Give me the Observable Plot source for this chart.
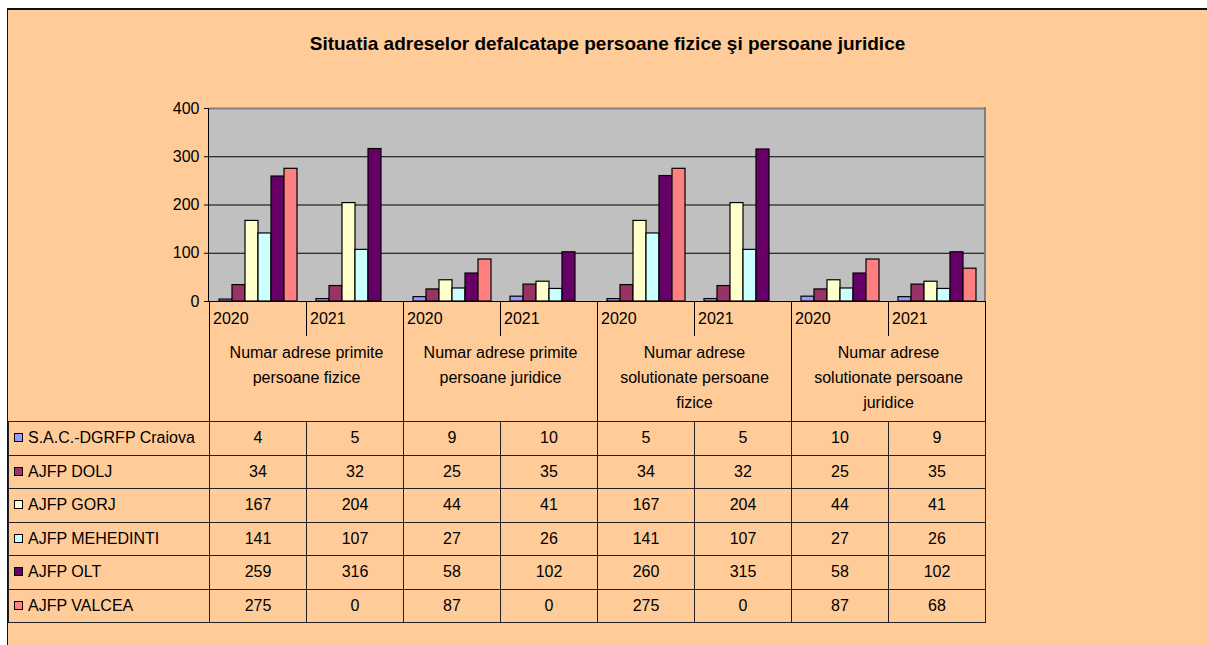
<!DOCTYPE html>
<html><head><meta charset="utf-8">
<script src="https://cdn.jsdelivr.net/npm/d3@7"></script>
<script src="https://cdn.jsdelivr.net/npm/@observablehq/plot@0.6"></script>
<style>
body{margin:0;width:1207px;height:645px;position:relative;overflow:hidden;background:#fff;font-family:"Liberation Sans",Arial,sans-serif;color:#000;}
#frame{position:absolute;left:7px;top:8px;right:0;bottom:0;background:#FFCC99;border-top:2px solid #111;border-left:1px solid #111;}
#title{position:absolute;left:8px;right:0;top:33px;text-align:center;font-weight:bold;font-size:19px;}
#plotbg{position:absolute;left:209px;top:108px;width:776px;height:193px;background:#C0C0C0;}
#chart{position:absolute;left:0;top:0;}
#axisline{position:absolute;left:208px;top:108px;width:1px;height:194px;background:#000;}
#rightline{position:absolute;left:984px;top:107px;width:2px;height:194px;background:#808080;}
#tbl{position:absolute;left:8px;top:301px;border-collapse:collapse;table-layout:fixed;font-size:16px;width:977px;}
#tbl td{padding:0;border:0;}
#tbl td.yr{border-left:1px solid #000;padding-left:3px;vertical-align:top;padding-top:9px;height:26px;}
#tbl td.cat{height:81px;border-left:1px solid #000;border-right:1px solid #000;text-align:center;vertical-align:top;line-height:25px;padding-top:4px;white-space:pre-line;}
#tbl tr.data td{border:1px solid #222;height:32.5px;text-align:center;vertical-align:middle;}
#tbl tr.data td.lab{text-align:left;padding-left:5px;white-space:nowrap;}
.sw{display:inline-block;width:7px;height:7px;border:1px solid #000;margin-right:5px;vertical-align:1px;}
</style></head>
<body>
<div id="frame"></div>
<div id="title"></div>
<div id="plotbg"></div>
<div id="chart"></div>
<div id="axisline"></div>
<div id="rightline"></div>
<table id="tbl"></table>
<script>
const title = "Situatia adreselor defalcatape persoane fizice şi persoane juridice";
const categories = [
  "Numar adrese primite\npersoane fizice",
  "Numar adrese primite\npersoane juridice",
  "Numar adrese\nsolutionate persoane\nfizice",
  "Numar adrese\nsolutionate persoane\njuridice"
];
const years = ["2020", "2021"];
const seriesNames = ["S.A.C.-DGRFP Craiova", "AJFP DOLJ", "AJFP GORJ", "AJFP MEHEDINTI", "AJFP OLT", "AJFP VALCEA"];
const seriesColors = ["#9999FF", "#993366", "#FFFFCC", "#CCFFFF", "#660066", "#FF8080"];
const sacValues = [4, 5, 9, 10, 5, 5, 10, 9];
const doljValues = [34, 32, 25, 35, 34, 32, 25, 35];
const gorjValues = [167, 204, 44, 41, 167, 204, 44, 41];
const mehedintiValues = [141, 107, 27, 26, 141, 107, 27, 26];
const oltValues = [259, 316, 58, 102, 260, 315, 58, 102];
const valceaValues = [275, 0, 87, 0, 275, 0, 87, 68];
const yTicks = [0, 100, 200, 300, 400];

const seriesValues = [sacValues, doljValues, gorjValues, mehedintiValues, oltValues, valceaValues];
const groupKeys = [];
categories.forEach((c, ci) => years.forEach(y => groupKeys.push(ci + "-" + y)));
const rows = [];
seriesNames.forEach((s, si) => seriesValues[si].forEach((v, gi) => rows.push({group: groupKeys[gi], series: s, value: v})));

document.getElementById("title").textContent = title;

const plot = Plot.plot({
  width: 1207,
  height: 311,
  marginLeft: 209,
  marginRight: 222,
  marginTop: 108,
  marginBottom: 10,
  style: {background: "transparent", fontSize: "16px", fontFamily: "Liberation Sans, Arial, sans-serif", color: "#000"},
  facet: {data: rows, x: "group"},
  fx: {domain: groupKeys, padding: 0, axis: null},
  x: {domain: seriesNames, paddingInner: 0, paddingOuter: 0.73, axis: null},
  y: {domain: [0, 400], ticks: yTicks, tickSize: 5, tickPadding: 5, label: null},
  color: {domain: seriesNames, range: seriesColors},
  marks: [
    Plot.ruleY([100, 200, 300], {stroke: "#000", strokeWidth: 1}),
    Plot.ruleY([400], {stroke: "#808080", strokeWidth: 2}),
    Plot.barY(rows, {x: "series", y: "value", fill: "series", stroke: "#000", strokeWidth: 1.2, inset: 0}),
    Plot.ruleY([0], {stroke: "#000", strokeWidth: 1})
  ]
});
document.getElementById("chart").appendChild(plot);

// data table
const tbl = d3.select("#tbl");
const cg = tbl.append("colgroup");
cg.append("col").style("width", "201px");
groupKeys.forEach(() => cg.append("col").style("width", "97px"));
const r1 = tbl.append("tr");
r1.append("td");
groupKeys.forEach((k, i) => {
  const td = r1.append("td").attr("class", "yr").text(years[i % 2]);
  if (i === groupKeys.length - 1) td.style("border-right", "1px solid #000");
});
const r2 = tbl.append("tr");
r2.append("td");
categories.forEach(c => r2.append("td").attr("class", "cat").attr("colspan", 2).text(c));
seriesNames.forEach((s, si) => {
  const tr = tbl.append("tr").attr("class", "data");
  const lab = tr.append("td").attr("class", "lab");
  lab.append("span").attr("class", "sw").style("background", seriesColors[si]);
  lab.append("span").text(s);
  seriesValues[si].forEach(v => tr.append("td").text(v));
});
</script>
</body></html>
